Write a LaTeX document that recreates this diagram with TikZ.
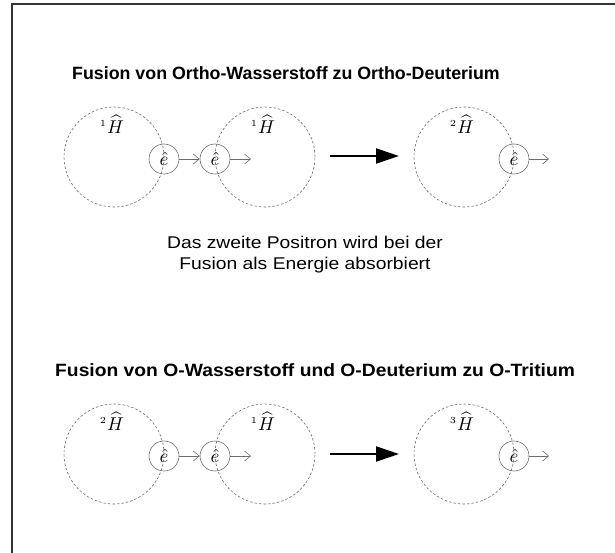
\documentclass[tikz,border=0pt]{standalone}
\usepackage{amsmath}
\usepackage{graphicx}
\usepackage{fontspec}
\setmainfont{Liberation Sans}
\usetikzlibrary{arrows.meta}
\newcommand{\nuc}[1]{\scalebox{1.85}{${}^{\scriptscriptstyle #1}\widehat{H}$}}
\newcommand{\pos}{\scalebox{1.9}{$\hat{e}$}}
\begin{document}
\begin{tikzpicture}[x=1pt,y=-1pt,
  nucleus/.style={circle,draw=gray!85!black,line width=0.6pt,dash pattern=on 2.5pt off 2pt,minimum size=100pt,inner sep=0pt},
  positron/.style={circle,draw=gray!85!black,line width=0.6pt,minimum size=30pt,inner sep=0pt},
  smallarrow/.style={draw=gray!85!black,line width=0.6pt,-{Straight Barb[length=6pt,width=10pt]}},
  bigarrow/.style={draw=black,line width=2.2pt,-{Triangle[length=23pt,width=15pt]}},
  hlabel/.style={inner sep=0pt},
  titletext/.style={inner sep=0pt,anchor=west,font=\fontsize{17.8}{21}\selectfont\bfseries},
  bodytext/.style={inner sep=0pt,font=\fontsize{17}{21}\selectfont}]
\useasboundingbox (0,0) rectangle (615,553);
\draw[line width=1.2pt,black!80] (12,553) -- (12,4) -- (615,4);

% top row
\node[titletext] (t1) at (72,73) {Fusion von Ortho-Wasserstoff zu Ortho-Deuterium};
\node[nucleus] (a1) at (114,157) {};
\node[nucleus] (b1) at (265,157) {};
\node[nucleus] (c1) at (464,157) {};
\node[hlabel] (la1) at (112,124) {\nuc{1}};
\node[hlabel] (lb1) at (263,124) {\nuc{1}};
\node[hlabel] (lc1) at (462,124) {\nuc{2}};
\node[positron] (pa1) at (164,159) {\pos};
\node[positron] (pb1) at (215,159) {\pos};
\node[positron] (pc1) at (514,159) {\pos};
\coordinate (eb1) at (251,159);
\coordinate (ec1) at (549,159);
\draw[smallarrow] (pa1.east) -- (pb1.west);
\draw[smallarrow] (pb1.east) -- (eb1);
\draw[smallarrow] (pc1.east) -- (ec1);
\coordinate (s1) at (330,156);
\coordinate (e1) at (399,156);
\draw[bigarrow] (s1) -- (e1);

\node[bodytext] (txt1) at (305,242) {\scalebox{1.136}[1]{Das zweite Positron wird bei der}};
\node[bodytext] (txt2) at (305,265) {\scalebox{1.136}[1]{Fusion als Energie absorbiert}};

% bottom row
\node[titletext] (t2) at (55,370) {\scalebox{1.083}[1]{Fusion von O-Wasserstoff und O-Deuterium zu O-Tritium}};
\node[nucleus] (a2) at (114,454) {};
\node[nucleus] (b2) at (265,454) {};
\node[nucleus] (c2) at (464,454) {};
\node[hlabel] (la2) at (112,421) {\nuc{2}};
\node[hlabel] (lb2) at (263,421) {\nuc{1}};
\node[hlabel] (lc2) at (462,421) {\nuc{3}};
\node[positron] (pa2) at (164,456) {\pos};
\node[positron] (pb2) at (215,456) {\pos};
\node[positron] (pc2) at (514,456) {\pos};
\coordinate (eb2) at (251,456);
\coordinate (ec2) at (549,456);
\draw[smallarrow] (pa2.east) -- (pb2.west);
\draw[smallarrow] (pb2.east) -- (eb2);
\draw[smallarrow] (pc2.east) -- (ec2);
\coordinate (s2) at (330,454);
\coordinate (e2) at (399,454);
\draw[bigarrow] (s2) -- (e2);
\end{tikzpicture}
\end{document}
